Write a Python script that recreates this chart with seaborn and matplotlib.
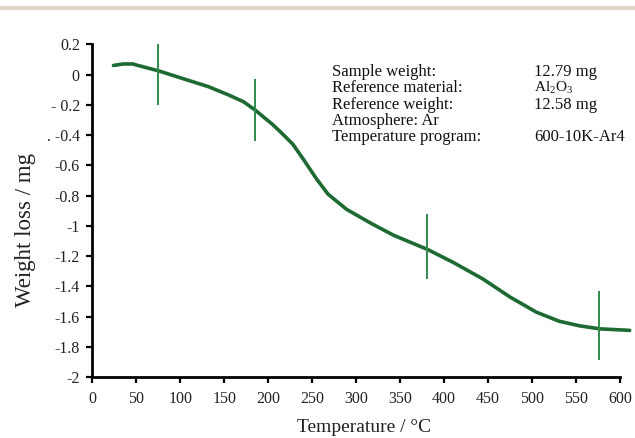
import matplotlib
matplotlib.use("Agg")
import matplotlib.pyplot as plt
import seaborn as sns
import pandas as pd
from matplotlib.patches import Rectangle

# ---- data ----
temperature = [24, 35, 46, 52, 75, 102, 132, 155, 172, 185, 205, 215, 228, 240,
               255, 268, 289, 316, 342, 350, 381, 410, 444, 475, 505, 531, 554,
               577, 611]
weight_loss = [0.06, 0.07, 0.07, 0.06, 0.025, -0.025, -0.08, -0.135, -0.18,
               -0.234, -0.33, -0.385, -0.46, -0.56, -0.69, -0.79, -0.89, -0.98,
               -1.06, -1.08, -1.155, -1.24, -1.35, -1.47, -1.57, -1.63, -1.66,
               -1.68, -1.69]

marker_temps = [75, 185, 381, 576]
marker_top = [0.23, -0.03, -0.92, -1.43]
marker_bottom = [-0.20, -0.44, -1.35, -1.885]

x_ticks = [0, 50, 100, 150, 200, 250, 300, 350, 400, 450, 500, 550, 600]
y_ticks = [0.2, 0, -0.2, -0.4, -0.6, -0.8, -1, -1.2, -1.4, -1.6, -1.8, -2]
y_tick_labels = ["0.2", "0", "- 0.2", ". -0.4", "-0.6", "-0.8", "-1", "-1.2",
                 "-1.4", "-1.6", "-1.8", "-2"]

info_labels = ["Sample weight:", "Reference material:", "Reference weight:",
               "Atmosphere: Ar", "Temperature program:"]
info_values = ["12.79 mg", r"$\mathrm{Al_2O_3}$", "12.58 mg", "", "600-10K-Ar4"]

# ---- styling ----
sns.set_theme(style="white")
plt.rcParams["font.family"] = ["Liberation Serif", "DejaVu Serif"]
plt.rcParams["mathtext.fontset"] = "custom"
plt.rcParams["mathtext.rm"] = "Liberation Serif"
plt.rcParams["mathtext.it"] = "Liberation Serif:italic"
plt.rcParams["mathtext.bf"] = "Liberation Serif:bold"

fig = plt.figure(figsize=(6.35, 4.38), dpi=100)
fig.patch.set_facecolor("white")
ax = fig.add_axes([0.1454, 0.1386, 0.8310, 0.7603])

# beige strip at the top of the picture
fig.patches.append(Rectangle((0, 1 - 10 / 438), 1, 4 / 438, transform=fig.transFigure,
                             facecolor="#ddd6c6", edgecolor="none", zorder=0))

df = pd.DataFrame({"Temperature": temperature, "Weight": weight_loss})
sns.lineplot(data=df, x="Temperature", y="Weight", ax=ax, color="#1d6a33",
             linewidth=2.6, clip_on=False)

ax.vlines(marker_temps, marker_bottom, marker_top, colors="#2f8a4d", linewidth=1.4)

ax.set_xlim(0, 600)
ax.set_ylim(-2, 0.2)
ax.set_xticks(x_ticks)
ax.set_xticklabels([str(t) for t in x_ticks])
ax.set_yticks(y_ticks)
ax.set_yticklabels(y_tick_labels)

for side in ["top", "right"]:
    ax.spines[side].set_visible(False)
for side in ["left", "bottom"]:
    ax.spines[side].set_color("black")
    ax.spines[side].set_linewidth(2)

ax.tick_params(axis="both", which="major", direction="out", length=4, width=1.6,
               color="black", labelsize=11.5, labelcolor="#222222", pad=5)
ax.tick_params(axis="x", bottom=True, pad=6)
ax.tick_params(axis="y", left=True)

ax.set_xlabel("Temperature / °C", fontsize=14, color="#222222", va="center")
ax.xaxis.set_label_coords(0.515, -0.152)
ax.set_ylabel("Weight loss / mg", fontsize=16.5, color="#222222", va="center")
ax.yaxis.set_label_coords(-0.1275, 0.442)

# info block (axes fraction coordinates)
row_y = [0.917, 0.868, 0.819, 0.771, 0.722]
for lab, val, yy in zip(info_labels, info_values, row_y):
    ax.text(0.4545, yy, lab, transform=ax.transAxes, fontsize=12, color="#111111",
            va="center", ha="left")
    if val:
        ax.text(0.837, yy, val, transform=ax.transAxes,
                fontsize=11 if val.startswith("$") else 12, color="#111111",
                va="center", ha="left")

fig.savefig("out.png", dpi=100)
